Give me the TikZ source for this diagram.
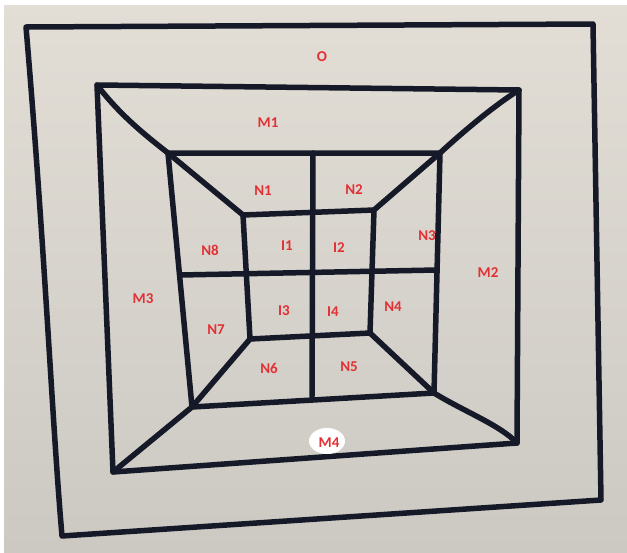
\documentclass[tikz,border=0pt]{standalone}
\usepackage{fontspec}
\setmainfont{Carlito}
\definecolor{paperlight}{RGB}{226,222,214}
\definecolor{paperdark}{RGB}{204,201,195}
\definecolor{ink}{RGB}{22,26,40}
\definecolor{lab}{RGB}{226,48,52}
\tikzset{
  pen/.style={draw=ink, line width=5.5pt, line cap=round, line join=round},
  lbl/.style={text=lab, font=\fontsize{15}{15}\selectfont\bfseries, inner sep=0pt}
}
\begin{document}
\begin{tikzpicture}[x=1pt,y=-1pt]
\useasboundingbox (0,0) rectangle (627,552);
\fill[white] (0,0) rectangle (627,552);
\shade[top color=paperlight, bottom color=paperdark] (4,5) rectangle (627,552);
% corners
\coordinate (o1) at (26,27);
\coordinate (o2) at (593,24);
\coordinate (o3) at (601,500);
\coordinate (o4) at (62,536);
\coordinate (m1) at (97,85);
\coordinate (m2) at (519,90);
\coordinate (m3) at (517,443);
\coordinate (m4) at (113,472);
\coordinate (n1) at (168,153);
\coordinate (n2) at (440,153);
\coordinate (n3) at (434,393);
\coordinate (n4) at (192,407);
\coordinate (i1) at (243,215);
\coordinate (i2) at (374,210);
\coordinate (i3) at (370,333);
\coordinate (i4) at (250,339);
\coordinate (vt) at (313,153);
\coordinate (vb) at (312,396);
\coordinate (hl) at (180,275);
\coordinate (hr) at (437,270);
% outer
\draw[pen] (o1) -- (o2) -- (o3) -- (o4) .. controls (52,420) and (45,250) .. (o1) -- cycle;
% middle
\draw[pen] (m1) -- (m2) -- (m3) -- (m4) -- cycle;
% N ring
\draw[pen] (n1) -- (n2) -- (n3) -- (n4) -- cycle;
% I square
\draw[pen] (i1) -- (i2) -- (i3) -- (i4) -- cycle;
% diagonals
\draw[pen] (m1) .. controls (120,115) and (145,135) .. (n1) -- (i1);
\draw[pen] (m2) .. controls (495,105) and (465,130) .. (n2) -- (i2);
\draw[pen] (m3) .. controls (500,425) and (465,412) .. (n3) -- (i3);
\draw[pen] (m4) -- (n4) -- (i4);
% cross
\draw[pen] (vt) -- (vb);
\draw[pen] (hl) -- (hr);
% labels
\node[lbl] (lO) at (322,57) {O};
\node[lbl] (lM1) at (268,123) {M1};
\node[lbl] (lM2) at (488,273) {M2};
\node[lbl] (lM3) at (143,299) {M3};
\fill[white] (327,441) ellipse (18 and 13);
\node[lbl] (lM4) at (329,443) {M4};
\node[lbl] (lN1) at (263,191) {N1};
\node[lbl] (lN2) at (354,190) {N2};
\node[lbl] (lN3) at (427,236) {N3};
\node[lbl] (lN4) at (393,307) {N4};
\node[lbl] (lN5) at (349,367) {N5};
\node[lbl] (lN6) at (269,368) {N6};
\node[lbl] (lN7) at (216,330) {N7};
\node[lbl] (lN8) at (210,250) {N8};
\node[lbl] (lI1) at (287,246) {I1};
\node[lbl] (lI2) at (339,248) {I2};
\node[lbl] (lI3) at (284,311) {I3};
\node[lbl] (lI4) at (333,312) {I4};
\end{tikzpicture}
\end{document}
